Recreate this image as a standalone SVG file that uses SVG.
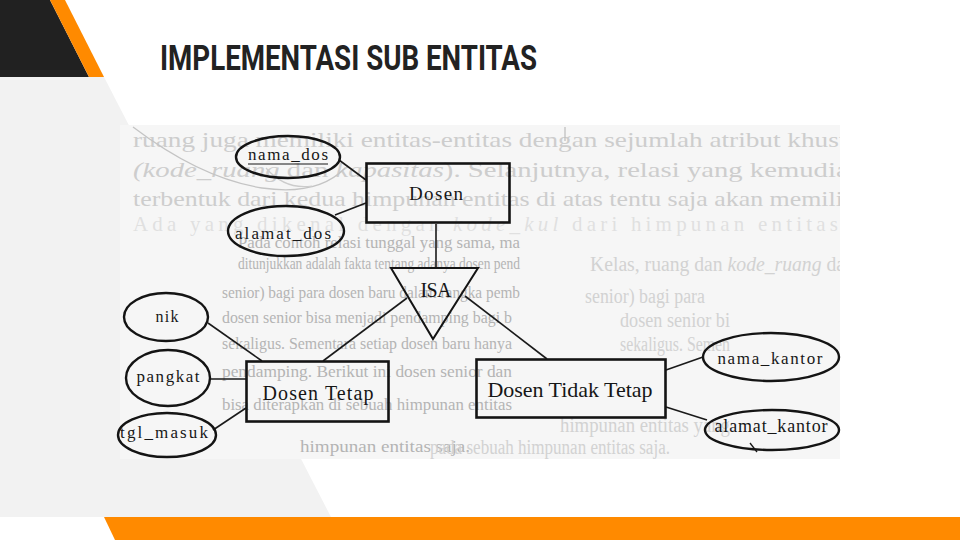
<svg xmlns="http://www.w3.org/2000/svg" width="960" height="540" viewBox="0 0 960 540">
  <style>
    .ent { fill: none; stroke: #141414; stroke-width: 2.6; }
    .att { fill: none; stroke: #141414; stroke-width: 2.4; }
    .isa { fill: none; stroke: #141414; stroke-width: 2; }
    .lnk { stroke: #1a1a1a; stroke-width: 1.6; fill: none; }
    .lbl { font-family: "Liberation Serif", "Times New Roman", serif; fill: #161616; text-anchor: middle; }
    .pg { font-family: "Liberation Serif", "Times New Roman", serif; }
    .big { font-size: 21px; fill: #cdcdcd; }
    .small { font-size: 17px; fill: #b4b4b4; }
    .side { font-size: 20px; fill: #d2d2d2; }
    .title { font-family: "Roboto", "Liberation Sans", sans-serif; font-weight: 700; font-size: 35px; fill: #222222; }
  </style>
  <defs>
    <clipPath id="scanClip">
      <rect x="120" y="125" width="720" height="334"/>
    </clipPath>
  </defs>

  <!-- slide background -->
  <rect x="0" y="0" width="960" height="540" fill="#ffffff"/>
  <polygon points="0,77 104,77 331,517 0,517" fill="#f2f2f2"/>
  <polygon points="0,0 50,0 89,77 0,77" fill="#212121"/>
  <polygon points="50,0 65,0 104,77 89,77" fill="#ff8a00"/>
  <polygon points="104,517 960,517 960,540 115,540" fill="#ff8a00"/>

  <text class="title" x="160" y="70" textLength="377" lengthAdjust="spacingAndGlyphs">IMPLEMENTASI SUB ENTITAS</text>

  <!-- scanned page with its faint printed text -->
  <rect x="120" y="125" width="720" height="334" fill="#f6f6f6"/>
  <g id="page-text" class="pg" clip-path="url(#scanClip)">
    <text class="big" x="133" y="147" textLength="730" lengthAdjust="spacingAndGlyphs">ruang juga memiliki entitas-entitas dengan sejumlah atribut khusus</text>
    <text class="big" x="133" y="177" textLength="730" lengthAdjust="spacingAndGlyphs"><tspan font-style="italic">(kode_ruang</tspan> dan <tspan font-style="italic">kapasitas</tspan>). Selanjutnya, relasi yang kemudian</text>
    <text class="big" x="133" y="206" textLength="730" lengthAdjust="spacingAndGlyphs">terbentuk dari kedua himpunan entitas di atas tentu saja akan memiliki</text>
    <text class="big" x="133" y="231" font-size="19" textLength="705" lengthAdjust="spacing" fill-opacity="0.55">Ada yang dikenal dengan <tspan font-style="italic">kode_kul</tspan> dari himpunan entitas</text>
    <text class="side" x="590" y="271" textLength="255" lengthAdjust="spacingAndGlyphs">Kelas, ruang dan <tspan font-style="italic">kode_ruang</tspan> da</text>
    <text class="small" x="238" y="248" textLength="282" lengthAdjust="spacingAndGlyphs">Pada contoh relasi tunggal yang sama, ma</text>
    <text class="small" x="238" y="269" textLength="282" lengthAdjust="spacingAndGlyphs">ditunjukkan adalah fakta tentang adanya dosen pend</text>
    <text class="small" x="222" y="298" textLength="298" lengthAdjust="spacingAndGlyphs">senior) bagi para dosen baru dalam rangka pemb</text>
    <text class="small" x="222" y="323" textLength="290" lengthAdjust="spacingAndGlyphs">dosen senior bisa menjadi pendamping bagi b</text>
    <text class="small" x="222" y="349" textLength="290" lengthAdjust="spacingAndGlyphs">sekaligus. Sementara setiap dosen baru hanya</text>
    <text class="small" x="222" y="377" textLength="290" lengthAdjust="spacingAndGlyphs">pendamping. Berikut ini dosen senior dan</text>
    <text class="small" x="222" y="410" textLength="290" lengthAdjust="spacingAndGlyphs">bisa diterapkan di sebuah himpunan entitas</text>
    <text class="small" x="300" y="452" textLength="170" lengthAdjust="spacingAndGlyphs">himpunan entitas saja.</text>
    <text class="side" x="585" y="303" textLength="120" lengthAdjust="spacingAndGlyphs">senior) bagi para</text>
    <text class="side" x="620" y="327" textLength="110" lengthAdjust="spacingAndGlyphs">dosen senior bi</text>
    <text class="side" x="620" y="351" textLength="110" lengthAdjust="spacingAndGlyphs">sekaligus. Semen</text>
    <text class="side" x="560" y="432" textLength="170" lengthAdjust="spacingAndGlyphs">himpunan entitas yang</text>
    <text class="side" x="430" y="454" textLength="240" lengthAdjust="spacingAndGlyphs">pada sebuah himpunan entitas saja.</text>
    <path d="M133,127 Q200,178 262,188 Q318,196 345,168" fill="none" stroke="#c4c4c4" stroke-width="1.3"/>
    <path d="M266,168 Q285,190 312,186" fill="none" stroke="#cccccc" stroke-width="1.2"/>
    <path d="M565,127 L565,141" fill="none" stroke="#bdbdbd" stroke-width="1.2"/>
  </g>

  <!-- connectors -->
  <g id="connectors">
    <line class="lnk" x1="339" y1="160" x2="366" y2="180"/>
    <line class="lnk" x1="335" y1="215" x2="366" y2="203"/>
    <line class="lnk" x1="436" y1="224" x2="436" y2="268"/>
    <line class="lnk" x1="407" y1="298" x2="323" y2="361"/>
    <line class="lnk" x1="465" y1="296" x2="547" y2="359"/>
    <line class="lnk" x1="208" y1="323" x2="262" y2="361"/>
    <line class="lnk" x1="210" y1="379" x2="246" y2="379"/>
    <line class="lnk" x1="213" y1="430" x2="246" y2="408"/>
    <line class="lnk" x1="666" y1="370" x2="703" y2="357"/>
    <line class="lnk" x1="666" y1="407" x2="707" y2="420"/>
  </g>

  <!-- entities -->
  <g id="dosen">
    <rect class="ent" x="366.5" y="163.5" width="143" height="59"/>
    <text class="lbl" x="436" y="200" font-size="19" textLength="54" lengthAdjust="spacing">Dosen</text>
  </g>
  <g id="dosen-tetap">
    <rect class="ent" x="246.5" y="361.5" width="142" height="60"/>
    <text class="lbl" x="318" y="400" font-size="20" textLength="111" lengthAdjust="spacing">Dosen Tetap</text>
  </g>
  <g id="dosen-tidak-tetap">
    <rect class="ent" x="476.5" y="359.5" width="189" height="58"/>
    <text class="lbl" x="570" y="397" font-size="22" textLength="165" lengthAdjust="spacing">Dosen Tidak Tetap</text>
  </g>

  <!-- specialisation -->
  <g id="isa">
    <polygon class="isa" points="391,268 478,268 433,339"/>
    <text class="lbl" x="436" y="297" font-size="20" textLength="31" lengthAdjust="spacing">ISA</text>
  </g>

  <!-- attributes -->
  <g id="nama-dos">
    <ellipse class="att" cx="288" cy="157" rx="52" ry="21"/>
    <text class="lbl" x="288" y="160" font-size="17" textLength="80" lengthAdjust="spacing">nama_dos</text>
    <line x1="248" y1="164" x2="328" y2="164" stroke="#161616" stroke-width="1.2"/>
  </g>
  <g id="alamat-dos">
    <ellipse class="att" cx="286" cy="231" rx="58" ry="25"/>
    <text class="lbl" x="283" y="239" font-size="17" textLength="96" lengthAdjust="spacing">alamat_dos</text>
  </g>
  <g id="nik">
    <ellipse class="att" cx="166" cy="317" rx="42" ry="24"/>
    <text class="lbl" x="167" y="322" font-size="16" textLength="23" lengthAdjust="spacing">nik</text>
  </g>
  <g id="pangkat">
    <ellipse class="att" cx="168" cy="378" rx="42" ry="28"/>
    <text class="lbl" x="168" y="382" font-size="17" textLength="63" lengthAdjust="spacing">pangkat</text>
  </g>
  <g id="tgl-masuk">
    <ellipse class="att" cx="167" cy="435" rx="49" ry="22"/>
    <text class="lbl" x="164" y="438" font-size="17" textLength="88" lengthAdjust="spacing">tgl_masuk</text>
  </g>
  <g id="nama-kantor">
    <ellipse class="att" cx="771" cy="357" rx="68" ry="24"/>
    <text class="lbl" x="770" y="364" font-size="17" textLength="105" lengthAdjust="spacing">nama_kantor</text>
  </g>
  <g id="alamat-kantor">
    <ellipse class="att" cx="772" cy="430" rx="67" ry="20"/>
    <text class="lbl" x="771" y="432" font-size="18" textLength="113" lengthAdjust="spacing">alamat_kantor</text>
    <line x1="750" y1="443" x2="757" y2="452" stroke="#161616" stroke-width="1.3"/>
  </g>
</svg>
